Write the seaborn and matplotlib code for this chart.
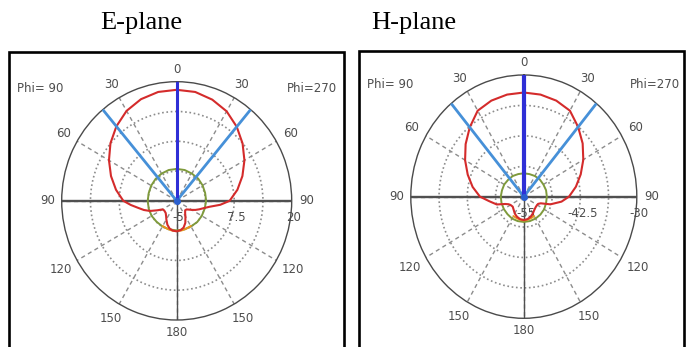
import numpy as np
import pandas as pd
import matplotlib
matplotlib.use("Agg")
import matplotlib.pyplot as plt
import seaborn as sns
from matplotlib.patches import Rectangle

sns.set_theme(style="white")
plt.rcParams["font.family"] = ["DejaVu Sans"]

# ---------------- data ----------------
angle_tick_labels = ["0", "30", "60", "90", "120", "150", "180",
                     "150", "120", "90", "60", "30"]
beam_half_angle = 40          # deg, half-power beam markers
main_beam_angle = 0

# E-plane (gain, dB) - angle from boresight
e_ang = [0, 10, 20, 30, 40, 50, 60, 70, 80, 90, 95, 100, 105, 110, 115, 120,
         125, 130, 137, 145, 150, 158, 165, 172, 180]
e_red_phi90 = [18.3, 18.2, 17.7, 16.8, 15.4, 13.8, 12.0, 10.2, 8.4, 6.6, 5.0,
               3.5, 2.4, 1.2, -0.3, -1.4, -1.6, -1.6, -1.5, -1.0, -0.5, 0.4,
               1.0, 1.3, 1.4]
e_red_phi270 = [18.3, 18.2, 17.6, 16.7, 15.3, 13.7, 12.0, 10.2, 8.4, 6.5, 4.5,
                2.2, 1.0, 0.2, -0.5, -1.2, -1.8, -2.2, -2.3, -1.8, -1.2, 0.0,
                0.8, 1.2, 1.4]
green_ang = [0, 15, 30, 45, 60, 75, 90, 105, 120, 135, 150, 165, 180]
e_green_phi90 = [1.7, 1.7, 1.6, 1.5, 1.4, 1.3, 1.3, 1.3, 1.3, 1.2, 1.2, 1.2, 1.2]
e_green_phi270 = [1.7, 1.7, 1.6, 1.6, 1.5, 1.4, 1.4, 1.3, 1.3, 1.3, 1.2, 1.2, 1.2]
orange_ang = [150, 160, 170, 180]
e_orange = [1.1, 1.2, 1.3, 1.35]
e_rings = [-5, 1.25, 7.5, 13.75, 20]
e_rlabels = ["-5", "7.5", "20"]
e_rlabel_vals = [-5, 7.5, 20]

# H-plane (gain, dB)
h_ang = [0, 10, 20, 30, 40, 50, 60, 70, 80, 90, 97, 105, 110, 115, 120, 130,
         140, 150, 160, 170, 180]
h_red_phi90 = [-33.6, -33.7, -34.0, -34.6, -36.4, -38.2, -40.0, -41.8, -43.5,
               -45.3, -47.3, -48.8, -50.6, -51.3, -51.6, -51.8, -51.5, -51.0,
               -50.6, -50.3, -50.2]
h_red_phi270 = [-33.6, -33.7, -34.0, -34.6, -36.3, -38.0, -39.8, -41.6, -43.3,
                -45.0, -46.6, -48.9, -51.0, -51.5, -51.6, -51.6, -51.4, -51.0,
                -50.6, -50.3, -50.2]
h_green_phi90 = [-50.2, -50.2, -50.1, -50.1, -50.0, -50.0, -49.9, -49.9, -49.9,
                 -49.9, -49.8, -49.8, -49.8]
h_green_phi270 = [-50.2, -50.2, -50.1, -50.0, -50.0, -49.9, -49.9, -49.9, -49.8,
                  -49.8, -49.8, -49.8, -49.8]
h_orange = [-50.4, -50.3, -50.2, -50.1]
h_rings = [-55, -48.75, -42.5, -36.25, -30]
h_rlabels = ["-55", "-42.5", "-30"]
h_rlabel_vals = [-55, -42.5, -30]

titles = ["E-plane", "H-plane"]

# ---------------- helpers ----------------
def full_curve(ang, left, right):
    th = [np.deg2rad(a) for a in ang] + [np.deg2rad(360 - a) for a in ang[::-1]]
    r = list(left) + list(right[::-1])
    return pd.DataFrame({"theta": th, "r": r})


TXT = "#4d4d4d"
GRID = "#8c8c8c"


def draw_panel(fig, rect, rings, red, green, orange, rlabels, rvals, blue_lw):
    ax = fig.add_axes(rect, projection="polar")
    ax.set_theta_zero_location("N")
    ax.set_theta_direction(1)
    rmin, rmax = rings[0], rings[-1]
    ax.set_ylim(rmin, rmax)
    ax.set_aspect("auto")
    ax.set_facecolor("white")
    ax.set_xticks(np.deg2rad(np.arange(0, 360, 30)))
    ax.set_xticklabels([])
    ax.set_yticks(rings[1:-1])
    ax.set_yticklabels([])
    ax.xaxis.grid(True, color=GRID, ls=(0, (3, 2.5)), lw=1.0)
    ax.yaxis.grid(True, color=GRID, ls=(0, (1, 1.6)), lw=1.2)
    ax.spines["polar"].set_color("#4a4a4a")
    ax.spines["polar"].set_linewidth(1.0)
    ax.tick_params(length=0)

    # principal axes
    for a, lw in [(90, 1.7), (270, 1.7), (180, 1.0)]:
        ax.plot([np.deg2rad(a)] * 2, [rmin, rmax], color="#505050", lw=lw, zorder=2)

    sns.lineplot(data=green, x="theta", y="r", sort=False, estimator=None,
                 color="#7f9a3c", lw=1.4, ax=ax, zorder=3)
    sns.lineplot(data=orange, x="theta", y="r", sort=False, estimator=None,
                 color="#e8951e", lw=1.4, ax=ax, zorder=3.5)
    sns.lineplot(data=red, x="theta", y="r", sort=False, estimator=None,
                 color="#d42b2b", lw=1.5, ax=ax, zorder=4)

    # beam markers
    for a in (beam_half_angle, 360 - beam_half_angle):
        ax.plot([np.deg2rad(a)] * 2, [rmin, rmax], color="#4690d8", lw=2.0, zorder=5)
    ax.plot([np.deg2rad(main_beam_angle)] * 2, [rmin, rmax], color="#2f2fd6",
            lw=blue_lw, zorder=6)
    ax.plot([0], [rmin], "o", color="#2a5fd0", ms=4, zorder=7)
    ax.set_xlabel("")
    ax.set_ylabel("")

    # theta labels
    for i, lab in enumerate(angle_tick_labels):
        a = np.deg2rad(30 * i)
        w = 7.0 * len(lab)
        h = 10.0
        d = 7.5 + 0.5 * (abs(w * np.sin(a)) + abs(h * np.cos(a)))
        ax.annotate(lab, xy=(a, rmax), xytext=(-d * np.sin(a), d * np.cos(a)),
                    textcoords="offset pixels", ha="center", va="center",
                    fontsize=8.5, color=TXT, annotation_clip=False)
    # radial labels
    for lab, v in zip(rlabels, rvals):
        ax.annotate(lab, xy=(np.deg2rad(270), v), xytext=(2, -17),
                    textcoords="offset pixels", ha="center", va="center",
                    fontsize=8.5, color=TXT, zorder=1, annotation_clip=False)
    return ax


W, H = 686, 347
fig = plt.figure(figsize=(W / 100, H / 100), dpi=100)
fig.patch.set_facecolor("white")


def fx(px):
    return px / W


def fy(py):
    return 1 - py / H


# frames
for x0, x1, y0 in [(8.5, 343.5, 52), (359, 683.5, 50.5)]:
    fig.add_artist(Rectangle((fx(x0), -0.1), fx(x1) - fx(x0), fy(y0) + 0.1,
                             transform=fig.transFigure, fill=False,
                             edgecolor="black", lw=1.9, zorder=0))

draw_panel(fig, [fx(176.7 - 115), fy(320), fx(230), 238.3 / H], e_rings,
           full_curve(e_ang, e_red_phi90, e_red_phi270),
           full_curve(green_ang, e_green_phi90, e_green_phi270),
           full_curve(orange_ang, e_orange, e_orange),
           e_rlabels, e_rlabel_vals, 2.2)
draw_panel(fig, [fx(523.8 - 113), fy(318.3), fx(226), 243.3 / H], h_rings,
           full_curve(h_ang, h_red_phi90, h_red_phi270),
           full_curve(green_ang, h_green_phi90, h_green_phi270),
           full_curve(orange_ang, h_orange, h_orange),
           h_rlabels, h_rlabel_vals, 3.0)

# titles
for t, cx in zip(titles, [141.7, 413.3]):
    fig.text(fx(cx), fy(29.5), t, ha="center", va="baseline", fontsize=19,
             family=["Liberation Serif"], color="black")

# Phi labels
for xl, xr, yy in [(16.7, 337.3, 88.5), (366.7, 680, 84.5)]:
    fig.text(fx(xl), fy(yy), "Phi= 90", ha="left", va="center", fontsize=8.5, color=TXT)
    fig.text(fx(xr), fy(yy), "Phi=270", ha="right", va="center", fontsize=8.5, color=TXT)

fig.savefig("out.png", dpi=100, facecolor="white")
